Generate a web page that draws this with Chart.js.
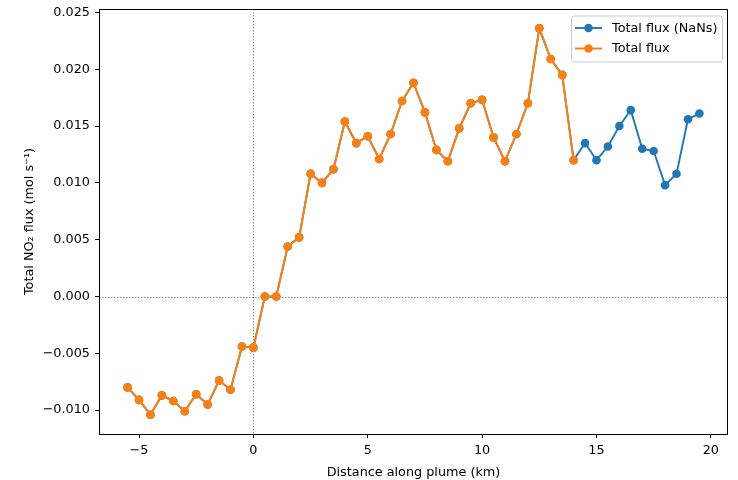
<!DOCTYPE html>
<html>
<head>
<meta charset="utf-8">
<title>Total NO2 flux along plume</title>
<script src="https://cdn.jsdelivr.net/npm/chart.js@4.4.1/dist/chart.umd.min.js"></script>
<style>
  html, body { margin: 0; padding: 0; background: #fff; }
  #wrap { width: 738px; height: 480px; }
</style>
</head>
<body>
<div id="wrap"><canvas id="fluxChart" width="738" height="480"></canvas></div>
<script>
// Distance along plume (km), 0.5 km steps
const distance = [
  -5.5, -5, -4.5, -4, -3.5, -3, -2.5, -2, -1.5, -1, -0.5, 0,
  0.5, 1, 1.5, 2, 2.5, 3, 3.5, 4, 4.5, 5, 5.5, 6, 6.5, 7, 7.5,
  8, 8.5, 9, 9.5, 10, 10.5, 11, 11.5, 12, 12.5, 13, 13.5, 14,
  14.5, 15, 15.5, 16, 16.5, 17, 17.5, 18, 18.5, 19, 19.5
];

// Total flux (mol/s) up to 14 km
const totalFlux = [
  -0.0080, -0.0091, -0.0104, -0.0087, -0.0092, -0.0101, -0.0086, -0.0095, -0.0074, -0.0082, -0.0044, -0.0045,
  0.0000, 0.0000, 0.0044, 0.0052, 0.0108, 0.0100, 0.0112, 0.0154, 0.0135, 0.0141, 0.0121, 0.0143, 0.0172, 0.0188, 0.0162,
  0.0129, 0.0119, 0.0148, 0.0170, 0.0173, 0.0140, 0.0119, 0.0143, 0.0170, 0.0236, 0.0209, 0.0195, 0.0120
];

// Flux beyond 14 km, only present in the series that keeps NaNs
const nanTail = [
  0.0135, 0.0120, 0.0132, 0.0150, 0.0164, 0.0130, 0.0128, 0.0098, 0.0108, 0.0156, 0.0161
];

const xTicks = [-5, 0, 5, 10, 15, 20];
const yTicks = [-0.010, -0.005, 0.000, 0.005, 0.010, 0.015, 0.020, 0.025];

const legendLabels = ['Total flux (NaNs)', 'Total flux'];
const BLUE = '#1f77b4';
const ORANGE = '#ff7f0e';

const fluxNaNs = totalFlux.concat(nanTail);

function toPoints(values) {
  return values.map((v, i) => ({ x: distance[i], y: v }));
}

// matplotlib-like 5% data margins
const xMinD = Math.min(...distance), xMaxD = Math.max(...distance);
const yMinD = Math.min(...fluxNaNs), yMaxD = Math.max(...fluxNaNs);
const xPad = (xMaxD - xMinD) * 0.05;
const yPad = (yMaxD - yMinD) * 0.05;

const fmtMinus = s => s.replace('-', '\u2212');

const FONT = { family: 'DejaVu Sans', size: 12.8 };
Chart.defaults.font.family = FONT.family;
Chart.defaults.font.size = FONT.size;
Chart.defaults.color = '#000';

// Frame, zero reference lines and legend
const decorations = {
  id: 'decorations',
  beforeDatasetsDraw(chart) {
    const { ctx, chartArea: a, scales } = chart;
    const x0 = Math.round(scales.x.getPixelForValue(0)) + 0.5;
    const y0 = Math.round(scales.y.getPixelForValue(0)) + 0.5;
    ctx.save();
    ctx.strokeStyle = 'rgba(0,0,0,0.55)';
    ctx.lineWidth = 0.8;
    ctx.setLineDash([1.5, 1.5]);
    ctx.beginPath();
    ctx.moveTo(x0, a.top);
    ctx.lineTo(x0, a.bottom);
    ctx.moveTo(a.left, y0);
    ctx.lineTo(a.right, y0);
    ctx.stroke();
    ctx.restore();
  },
  afterDatasetsDraw(chart) {
    const { ctx, chartArea: a } = chart;
    ctx.save();
    // axes frame
    ctx.strokeStyle = '#000';
    ctx.lineWidth = 1;
    ctx.strokeRect(Math.round(a.left) + 0.5, Math.round(a.top) + 0.5,
      Math.round(a.right - a.left) - 1, Math.round(a.bottom - a.top));

    // legend box
    const bw = 151, bh = 46;
    const bx = a.right - 6 - bw, by = a.top + 6.5;
    ctx.beginPath();
    ctx.roundRect(bx + 0.5, by + 0.5, bw, bh, 3);
    ctx.fillStyle = 'rgba(255,255,255,0.8)';
    ctx.fill();
    ctx.strokeStyle = '#cccccc';
    ctx.stroke();

    const colors = [BLUE, ORANGE];
    ctx.font = FONT.size + 'px ' + FONT.family;
    ctx.textBaseline = 'middle';
    legendLabels.forEach((label, i) => {
      const ly = by + 12.5 + i * 20.5;
      ctx.strokeStyle = colors[i];
      ctx.fillStyle = colors[i];
      ctx.lineWidth = 1.9;
      ctx.beginPath();
      ctx.moveTo(bx + 4, ly);
      ctx.lineTo(bx + 31, ly);
      ctx.stroke();
      ctx.beginPath();
      ctx.arc(bx + 17.5, ly, 4.3, 0, Math.PI * 2);
      ctx.fill();
      ctx.fillStyle = '#000';
      ctx.fillText(label, bx + 41, ly + 0.5);
    });
    ctx.restore();
  }
};

const seriesStyle = color => ({
  borderColor: color,
  backgroundColor: color,
  borderWidth: 1.9,
  pointRadius: 4.3,
  pointBorderWidth: 0,
  pointHoverRadius: 4.3,
  tension: 0,
  fill: false
});

new Chart(document.getElementById('fluxChart'), {
  type: 'line',
  data: {
    datasets: [
      Object.assign({ label: legendLabels[0], data: toPoints(fluxNaNs), order: 1 }, seriesStyle(BLUE)),
      Object.assign({ label: legendLabels[1], data: toPoints(totalFlux), order: 0 }, seriesStyle(ORANGE))
    ]
  },
  options: {
    responsive: false,
    animation: false,
    events: [],
    layout: { padding: { top: 9, right: 10, left: 0, bottom: 0 } },
    plugins: {
      legend: { display: false },
      tooltip: { enabled: false }
    },
    scales: {
      x: {
        type: 'linear',
        min: xMinD - xPad,
        max: xMaxD + xPad,
        afterBuildTicks: s => { s.ticks = xTicks.map(v => ({ value: v })); },
        afterFit: s => { s.height = 46; },
        border: { display: false },
        grid: { drawOnChartArea: false, drawTicks: true, tickLength: 4, color: '#000', lineWidth: 1 },
        ticks: {
          padding: 5,
          maxRotation: 0,
          callback: v => fmtMinus(String(v))
        },
        title: {
          display: true,
          text: 'Distance along plume (km)',
          padding: { top: 4, bottom: 0 }
        }
      },
      y: {
        type: 'linear',
        min: yMinD - yPad,
        max: yMaxD + yPad,
        afterBuildTicks: s => { s.ticks = yTicks.map(v => ({ value: v })); },
        afterFit: s => { s.width = 99; s.paddingTop = 0; },
        border: { display: false },
        grid: { drawOnChartArea: false, drawTicks: true, tickLength: 4, color: '#000', lineWidth: 1 },
        ticks: {
          padding: 5,
          callback: v => fmtMinus(v.toFixed(3))
        },
        title: {
          display: true,
          text: 'Total NO\u2082 flux (mol s\u207B\u00B9)',
          padding: { top: 21.5, bottom: 0 }
        }
      }
    }
  },
  plugins: [decorations]
});
</script>
</body>
</html>
